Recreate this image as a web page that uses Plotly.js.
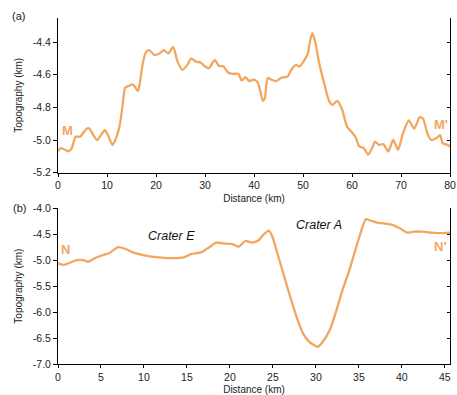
<!DOCTYPE html>
<html><head><meta charset="utf-8">
<script src="https://cdn.plot.ly/plotly-3.0.1.min.js"></script>
<style>html,body{margin:0;padding:0;background:#fff}#plot{width:457px;height:395px}</style>
</head><body><div id="plot"></div>
<script>
// Profile M–M'
const distA = [0,0.5,1.1,2.15,2.8,3.6,4.5,5.3,5.9,6.4,7.2,8.0,8.75,9.55,10.2,11.1,11.7,12.6,13.25,13.7,14.4,15.1,15.6,16.3,16.6,17.3,18.0,18.6,19.7,20.7,21.6,22.5,23.5,24.4,25.4,26.4,27.2,28.1,29.1,29.8,30.8,32.0,32.8,33.8,34.8,35.8,36.8,37.5,38.3,39.0,39.9,40.7,41.2,41.8,42.2,42.8,43.5,44.5,45.5,46.9,47.6,48.6,49.3,50.3,51.0,51.4,51.9,52.5,53.3,54.3,55.3,56.0,57.0,58.0,59.0,59.9,60.7,61.5,62.4,63.3,64.1,64.7,65.5,66.4,67.4,68.4,69.4,70.4,71.6,72.7,73.8,74.5,75.5,76.2,77.2,78.0,78.5,79.5,80.0];
const topoA = [-5.07,-5.05,-5.055,-5.07,-5.05,-4.98,-4.98,-4.95,-4.93,-4.93,-4.97,-5.0,-4.97,-4.94,-4.97,-5.03,-5.0,-4.91,-4.77,-4.68,-4.67,-4.66,-4.67,-4.70,-4.67,-4.53,-4.46,-4.45,-4.48,-4.47,-4.45,-4.47,-4.43,-4.52,-4.57,-4.54,-4.50,-4.52,-4.525,-4.545,-4.56,-4.51,-4.545,-4.55,-4.59,-4.595,-4.595,-4.635,-4.615,-4.64,-4.63,-4.645,-4.69,-4.76,-4.745,-4.62,-4.63,-4.64,-4.62,-4.61,-4.57,-4.54,-4.55,-4.51,-4.47,-4.40,-4.345,-4.40,-4.53,-4.65,-4.76,-4.785,-4.76,-4.815,-4.92,-4.95,-4.98,-5.04,-5.05,-5.09,-5.05,-5.01,-5.03,-5.025,-5.07,-5.0,-5.06,-4.96,-4.88,-4.93,-4.86,-4.87,-4.97,-5.0,-4.99,-4.97,-5.02,-5.03,-5.04];
// Profile N–N'
const distB = [0,0.65,1.2,2.2,2.95,3.5,4.3,5.26,6.0,7.0,7.8,8.7,9.9,11.4,13.3,14.7,15.5,16.6,17.6,18.4,19.3,20.3,21.0,21.8,22.6,23.3,23.9,24.5,24.9,25.4,26.2,27.0,27.75,28.5,29.2,29.7,30.2,30.8,31.6,32.4,33.1,33.9,34.7,35.25,35.8,36.4,37.2,37.9,38.9,39.9,40.6,41.4,42.4,43.5,44.5,45.6];
const topoB = [-5.06,-5.09,-5.06,-5.0,-5.0,-5.03,-4.96,-4.90,-4.86,-4.75,-4.78,-4.85,-4.90,-4.94,-4.96,-4.94,-4.88,-4.85,-4.75,-4.66,-4.68,-4.69,-4.74,-4.63,-4.66,-4.62,-4.51,-4.43,-4.53,-4.80,-5.25,-5.70,-6.09,-6.41,-6.57,-6.63,-6.67,-6.57,-6.35,-5.96,-5.57,-5.19,-4.74,-4.45,-4.21,-4.24,-4.28,-4.29,-4.32,-4.40,-4.47,-4.45,-4.45,-4.47,-4.48,-4.47];
const ticksAx = [0,10,20,30,40,50,60,70,80];
const ticksAy = [-5.2,-5.0,-4.8,-4.6,-4.4];
const ticksBx = [0,5,10,15,20,25,30,35,40,45];
const ticksBy = [-7.0,-6.5,-6.0,-5.5,-5.0,-4.5,-4.0];

const ORANGE = '#F2A65E';
const FONT = 'Arial, "Liberation Sans", sans-serif';
const tickFont = {family: FONT, size: 10.5, color: '#222'};
const titleFont = {family: FONT, size: 10, color: '#222'};
const lineStyle = {color: ORANGE, width: 2.3, shape: 'spline', smoothing: 0.6};

const traces = [
  {x: distA, y: topoA, xaxis: 'x', yaxis: 'y', mode: 'lines', line: lineStyle, hoverinfo: 'skip', showlegend: false},
  {x: distB, y: topoB, xaxis: 'x2', yaxis: 'y2', mode: 'lines', line: lineStyle, hoverinfo: 'skip', showlegend: false},
  // empty traces so the mirrored right-hand axes are drawn
  {x: [], y: [], xaxis: 'x', yaxis: 'y3', mode: 'lines', hoverinfo: 'skip', showlegend: false},
  {x: [], y: [], xaxis: 'x2', yaxis: 'y4', mode: 'lines', hoverinfo: 'skip', showlegend: false}
];

const baseX = {showgrid: false, zeroline: false, showline: true, linecolor: '#000', linewidth: 1, ticks: 'outside', ticklen: 3, tickcolor: '#000', tickfont: tickFont, ticklabeloverflow: 'allow'};
const baseY = {showgrid: false, zeroline: false, showline: true, linecolor: '#000', linewidth: 1, ticks: 'outside', ticklen: 4, tickcolor: '#000', tickfont: tickFont};
const rightY = {side: 'right', showticklabels: false, showgrid: false, zeroline: false, showline: true, linecolor: '#000', linewidth: 1, ticks: 'inside', ticklen: 3, tickcolor: '#000'};

const layout = {
  width: 457, height: 395,
  margin: {l: 58, r: 7, t: 18, b: 31},
  paper_bgcolor: '#fff', plot_bgcolor: '#fff',
  showlegend: false,
  xaxis: Object.assign({}, baseX, {domain: [0, 1], anchor: 'y', range: [0, 80], tickvals: ticksAx, ticktext: ticksAx.map(String), title: {text: 'Distance (km)', font: titleFont, standoff: 4}}),
  yaxis: Object.assign({}, baseY, {domain: [0.553, 1], anchor: 'x', range: [-5.2, -4.253], tickvals: ticksAy, ticktext: ticksAy.map(v => v.toFixed(1)), title: {text: 'Topography (km)', font: titleFont, standoff: 8}}),
  yaxis3: Object.assign({}, rightY, {overlaying: 'y', anchor: 'x', range: [-5.2, -4.253], tickvals: ticksAy}),
  xaxis2: Object.assign({}, baseX, {domain: [0, 1], anchor: 'y2', range: [0, 45.6], tickvals: ticksBx, ticktext: ticksBx.map(String), title: {text: 'Distance (km)', font: titleFont, standoff: 4}}),
  yaxis2: Object.assign({}, baseY, {domain: [0, 0.45], anchor: 'x2', range: [-7.0, -4.0], tickvals: ticksBy, ticktext: ticksBy.map(v => v.toFixed(1)), title: {text: 'Topography (km)', font: titleFont, standoff: 8}}),
  yaxis4: Object.assign({}, rightY, {overlaying: 'y2', anchor: 'x2', range: [-7.0, -4.0], tickvals: ticksBy}),
  annotations: [
    {xref: 'paper', yref: 'paper', x: -0.1015, y: 1.0066, text: '(a)', showarrow: false, font: {family: FONT, size: 11, color: '#222'}, xanchor: 'center', yanchor: 'middle'},
    {xref: 'paper', yref: 'paper', x: -0.099, y: 0.452, text: '(b)', showarrow: false, font: {family: FONT, size: 11, color: '#222'}, xanchor: 'center', yanchor: 'middle'},
    {xref: 'x', yref: 'y', x: 1.94, y: -4.944, text: '<b>M</b>', showarrow: false, font: {family: FONT, size: 13, color: ORANGE}, xanchor: 'center', yanchor: 'middle'},
    {xref: 'x', yref: 'y', x: 78.2, y: -4.903, text: "<b>M'</b>", showarrow: false, font: {family: FONT, size: 13, color: ORANGE}, xanchor: 'center', yanchor: 'middle'},
    {xref: 'x2', yref: 'y2', x: 0.92, y: -4.80, text: '<b>N</b>', showarrow: false, font: {family: FONT, size: 13, color: ORANGE}, xanchor: 'center', yanchor: 'middle'},
    {xref: 'x2', yref: 'y2', x: 44.4, y: -4.74, text: "<b>N'</b>", showarrow: false, font: {family: FONT, size: 13, color: ORANGE}, xanchor: 'center', yanchor: 'middle'},
    {xref: 'x2', yref: 'y2', x: 13.15, y: -4.53, text: '<i>Crater E</i>', showarrow: false, font: {family: FONT, size: 12.5, color: '#111'}, xanchor: 'center', yanchor: 'middle'},
    {xref: 'x2', yref: 'y2', x: 30.4, y: -4.32, text: '<i>Crater A</i>', showarrow: false, font: {family: FONT, size: 12.5, color: '#111'}, xanchor: 'center', yanchor: 'middle'}
  ]
};

Plotly.newPlot('plot', traces, layout, {staticPlot: true, displayModeBar: false});
</script>
</body></html>
